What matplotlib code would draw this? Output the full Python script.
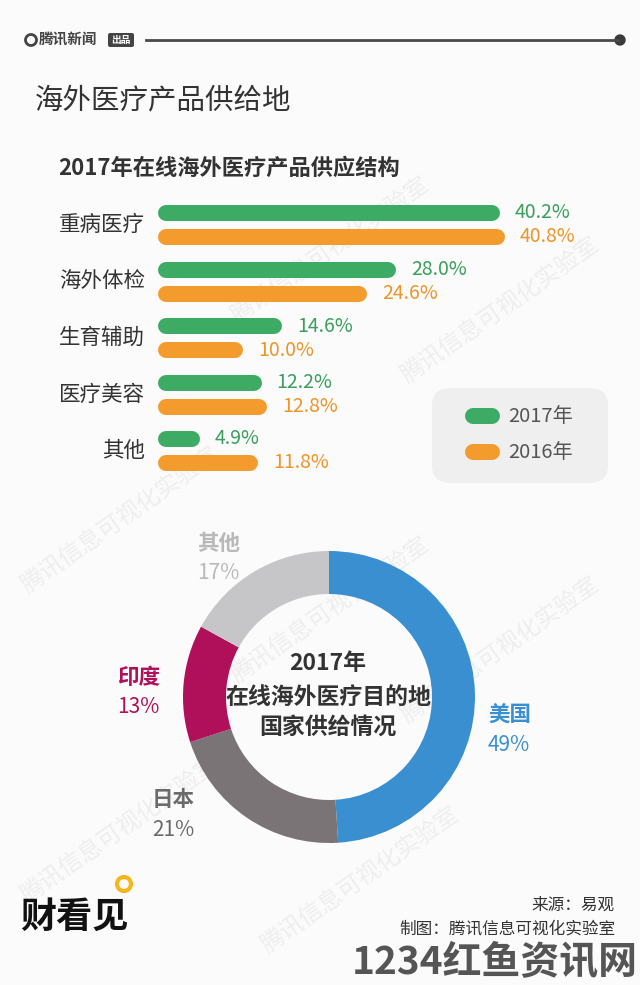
import matplotlib
matplotlib.use("Agg")
import matplotlib.pyplot as plt
from matplotlib.patches import FancyBboxPatch, Circle

plt.rcParams['font.family'] = ['Noto Sans CJK SC', 'DejaVu Sans']

# ---- data ----
categories = ["重病医疗", "海外体检", "生育辅助", "医疗美容", "其他"]
share_2017 = [40.2, 28.0, 14.6, 12.2, 4.9]
share_2016 = [40.8, 24.6, 10.0, 12.8, 11.8]
years = ["2017年", "2016年"]

countries = ["美国", "日本", "印度", "其他"]
country_share = [49, 21, 13, 17]

GREEN, GREEN_TXT = "#3dab63", "#3a9f5d"
ORANGE, ORANGE_TXT = "#f39b2d", "#ee9428"
country_colors = ["#3a8fd0", "#7a7476", "#b0105a", "#c6c6c8"]
country_txt = ["#3a8fd0", "#6a6a6a", "#b0105a", "#b8b8b8"]
DARK = "#333333"

W, H = 640, 985
fig = plt.figure(figsize=(W / 100, H / 100), dpi=100)
fig.patch.set_facecolor("#fbfbfb")


def px_axes(left, top, width, height):
    return fig.add_axes([left / W, 1 - (top + height) / H, width / W, height / H])


bg = px_axes(0, 0, W, H)
bg.set_xlim(0, W)
bg.set_ylim(H, 0)
bg.axis("off")

# faint watermarks
for (wx, wy) in [(330, 250), (500, 310), (330, 610), (500, 650), (120, 520),
                 (120, 830), (360, 880)]:
    bg.text(wx, wy, "腾讯信息可视化实验室", rotation=35, fontsize=17, color="#eeeeee",
            ha="center", va="center", zorder=0)

# header
bg.add_patch(Circle((31, 40), 5.5, fill=False, lw=2, ec="#444444"))
bg.text(39, 40, "腾讯新闻", fontsize=10.5, fontstyle="italic", weight="bold", color="#444444",
        va="center", ha="left")
bg.add_patch(FancyBboxPatch((108, 33), 26, 14, boxstyle="round,pad=0,rounding_size=2",
                            fc="#444444", ec="none"))
bg.text(121, 40, "出品", fontsize=7, color="white", weight="bold", ha="center", va="center")
bg.plot([146, 618], [40, 40], color="#4a4a4a", lw=2)
bg.add_patch(Circle((620, 40), 5, color="#3a3a3a"))

bg.text(35, 100, "海外医疗产品供给地", fontsize=20.5, weight="medium", color=DARK,
        ha="left", va="center")
bg.text(58, 168, "2017年在线海外医疗产品供应结构", fontsize=16, weight="bold", color=DARK,
        ha="left", va="center")

# ---- bar chart ----
px_per_pct = 8.5
bar_h = 16
ax = px_axes(158, 225 - 28.25, px_per_pct * 50, 56.5 * 5)
ax.set_xlim(0, 50)
ax.set_ylim(len(categories) - 0.5, -0.5)
ax.axis("off")
r = bar_h / 2 / px_per_pct
off = 12 / 56.5
for i, cat in enumerate(categories):
    for v, dy, c, tc in [(share_2017[i], -off, GREEN, GREEN_TXT),
                         (share_2016[i], off, ORANGE, ORANGE_TXT)]:
        ax.plot([r, v - r], [i + dy, i + dy], color=c, lw=bar_h * 0.72,
                solid_capstyle="round")
        ax.text(v + 15 / px_per_pct, i + dy, f"{v:.1f}%", color=tc, fontsize=14,
                weight="medium", ha="left", va="center")
    ax.text(-13 / px_per_pct, i, cat, fontsize=15.5, color=DARK, ha="right", va="center")

# legend box
bg.add_patch(FancyBboxPatch((432, 388), 176, 95, boxstyle="round,pad=0,rounding_size=18",
                            fc="#efefef", ec="none"))
for yy, c, lab in [(416, GREEN, years[0]), (452, ORANGE, years[1])]:
    bg.plot([473, 492], [yy, yy], color=c, lw=bar_h * 0.72, solid_capstyle="round")
    bg.text(508, yy, lab, fontsize=14.5, color="#555555", ha="left", va="center")

# ---- donut ----
R = 146
dax = px_axes(329 - 160, 697 - 160, 320, 320)
dax.pie(country_share, radius=R, startangle=90, counterclock=False, colors=country_colors,
        wedgeprops=dict(width=43, edgecolor="none"))
dax.set_xlim(-160, 160)
dax.set_ylim(-160, 160)
dax.axis("off")

for txt, yy in [("2017年", 663), ("在线海外医疗目的地", 697), ("国家供给情况", 727)]:
    bg.text(328, yy, txt, fontsize=16.5, weight="bold", color=DARK, ha="center", va="center")

label_pos = [(488, 715), (152, 800), (117, 677), (197, 543)]
for name, val, (lx, ly), tc in zip(countries, country_share, label_pos, country_txt):
    bg.text(lx, ly, name, fontsize=15.5, weight="bold", color=tc, ha="left", va="center")
    bg.text(lx, ly + 30, f"{val}%", fontsize=15, weight="medium", color=tc,
            ha="left", va="center")

# ---- footer ----
bg.text(20, 917, "财看见", fontsize=26, weight="heavy", fontstyle="italic", color="#111111",
        ha="left", va="center")
bg.add_patch(Circle((124, 884), 7, fill=False, ec="#f2b81c", lw=3))
bg.text(615, 905, "来源：易观", fontsize=12, color=DARK, ha="right", va="center")
bg.text(615, 929, "制图：腾讯信息可视化实验室", fontsize=12, color=DARK, ha="right", va="center")
bg.text(638, 962, "1234红鱼资讯网", fontsize=28, weight="bold", color="#555555",
        ha="right", va="center")

fig.savefig("out.png", dpi=100, facecolor=fig.get_facecolor())
